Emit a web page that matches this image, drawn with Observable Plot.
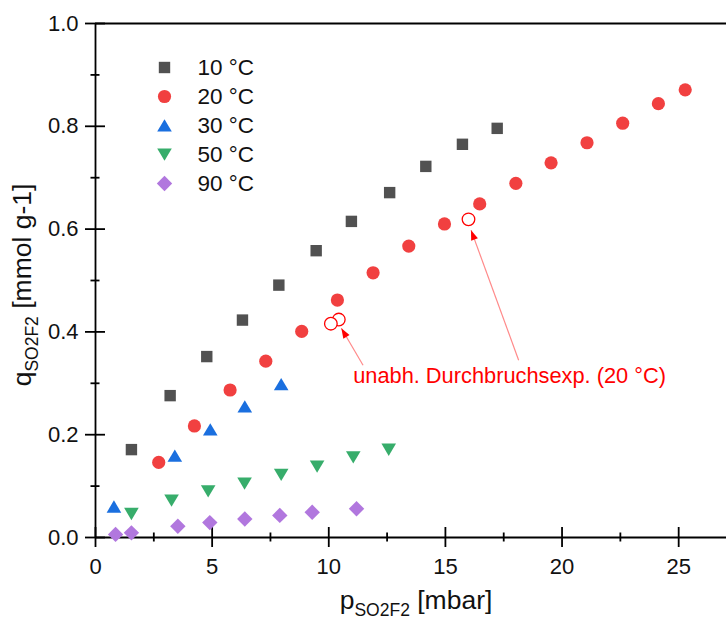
<!DOCTYPE html>
<html><head><meta charset="utf-8">
<script src="https://cdn.jsdelivr.net/npm/d3@7"></script>
<script src="https://cdn.jsdelivr.net/npm/@observablehq/plot@0.6"></script>
<style>
html,body{margin:0;padding:0;background:#fff;}
#wrap{position:relative;width:726px;height:621px;overflow:hidden;font-family:Arial,"Liberation Sans",sans-serif;}
#legend{position:absolute;left:140px;top:50px;}
</style></head><body><div id="wrap"></div>
<script>
// ---- data ----
const series = ["10 °C", "20 °C", "30 °C", "50 °C", "90 °C"];
const colors = ["#515151", "#F14040", "#1A6FDF", "#37AD6B", "#B177DE"];

const p10 = [1.54, 3.20, 4.77, 6.30, 7.86, 9.46, 10.97, 12.61, 14.16, 15.73, 17.22];
const q10 = [0.171, 0.276, 0.352, 0.423, 0.491, 0.558, 0.615, 0.671, 0.722, 0.765, 0.796];

const p20 = [2.71, 4.24, 5.77, 7.30, 8.84, 10.37, 11.90, 13.43, 14.96, 16.47, 18.02, 19.53, 21.07, 22.60, 24.13, 25.28];
const q20 = [0.146, 0.217, 0.287, 0.343, 0.401, 0.462, 0.515, 0.567, 0.610, 0.649, 0.689, 0.729, 0.768, 0.806, 0.844, 0.871];

const p30 = [0.79, 3.40, 4.92, 6.40, 7.96];
const q30 = [0.060, 0.159, 0.210, 0.255, 0.298];

const p50 = [1.54, 3.26, 4.83, 6.39, 7.96, 9.50, 11.05, 12.57];
const q50 = [0.046, 0.072, 0.090, 0.105, 0.122, 0.138, 0.156, 0.171];

const p90 = [0.86, 1.54, 3.53, 4.90, 6.40, 7.90, 9.29, 11.19];
const q90 = [0.006, 0.009, 0.022, 0.029, 0.036, 0.043, 0.049, 0.056];

// independent breakthrough experiments (20 °C), open circles
const pOpen = [10.43, 10.09, 15.99];
const qOpen = [0.424, 0.416, 0.619];

// annotation
const noteText = ["unabh. Durchbruchsexp. (20 °C)"];
const noteX = [17.75];
const noteY = [0.315];
const arrowX1 = [11.47, 18.14];
const arrowY1 = [0.335, 0.345];
const arrowX2 = [10.54, 16.10];
const arrowY2 = [0.407, 0.598];

// ticks
const xMajor = [0, 5, 10, 15, 20, 25];
const xMinor = [2.5, 7.5, 12.5, 17.5, 22.5];
const yMajor = [0, 0.2, 0.4, 0.6, 0.8, 1.0];
const yMinor = [0.1, 0.3, 0.5, 0.7, 0.9];

// ---- build tables ----
const ps = [p10, p20, p30, p50, p90];
const qs = [q10, q20, q30, q50, q90];
const rows = [];
series.forEach((s, i) => ps[i].forEach((p, j) => rows.push({series: s, p, q: qs[i][j]})));
const openRows = pOpen.map((p, i) => ({p, q: qOpen[i]}));
const notes = noteText.map((t, i) => ({t, x: noteX[i], y: noteY[i]}));
const arrows = arrowX1.map((x1, i) => ({x1, y1: arrowY1[i], x2: arrowX2[i], y2: arrowY2[i]}));

// ---- symbols ----
const kf = s => Math.sqrt(s / Math.PI) / 6.5;
const symSquare = {draw(c, s) { const h = 5.7 * kf(s); c.moveTo(-h, -h); c.lineTo(h, -h); c.lineTo(h, h); c.lineTo(-h, h); c.closePath(); }};
const symCircle = {draw(c, s) { const r = 6.6 * kf(s); c.moveTo(r, 0); c.arc(0, 0, r, 0, 2 * Math.PI); }};
const symUp = {draw(c, s) { const f = kf(s); c.moveTo(0, -6.3 * f); c.lineTo(7.3 * f, 6 * f); c.lineTo(-7.3 * f, 6 * f); c.closePath(); }};
const symDown = {draw(c, s) { const f = kf(s); c.moveTo(0, 6.3 * f); c.lineTo(7.3 * f, -6 * f); c.lineTo(-7.3 * f, -6 * f); c.closePath(); }};
const symDiamond = {draw(c, s) { const h = 7.7 * kf(s); c.moveTo(0, -h); c.lineTo(h, 0); c.lineTo(0, h); c.lineTo(-h, 0); c.closePath(); }};
const symbols = [symSquare, symCircle, symUp, symDown, symDiamond];

function filledArrow(color, context) {
  const ns = "http://www.w3.org/2000/svg";
  const m = document.createElementNS(ns, "marker");
  m.setAttribute("viewBox", "-11 -4 12 8");
  m.setAttribute("markerWidth", 12);
  m.setAttribute("markerHeight", 8);
  m.setAttribute("markerUnits", "userSpaceOnUse");
  m.setAttribute("orient", "auto");
  m.setAttribute("refX", 0);
  m.setAttribute("refY", 0);
  const path = document.createElementNS(ns, "path");
  path.setAttribute("d", "M0,0L-10,-3.6L-10,3.6Z");
  path.setAttribute("fill", "#ff0000");
  path.setAttribute("stroke", "none");
  m.appendChild(path);
  return m;
}

const font = 'Arial, "Liberation Sans", sans-serif';
const axisStroke = 1.8;

const chart = Plot.plot({
  width: 726, height: 621,
  marginLeft: 95, marginRight: 0, marginTop: 23, marginBottom: 84,
  style: {fontFamily: font, fontSize: "22px", color: "#111", background: "#fff", overflow: "visible"},
  x: {domain: [0, 27.05]},
  y: {domain: [0, 1]},
  color: {domain: series, range: colors},
  symbol: {domain: series, range: symbols},
  marks: [
    Plot.ruleY([1], {stroke: "#000", strokeWidth: axisStroke}),
    Plot.ruleY([0], {stroke: "#000", strokeWidth: axisStroke}),
    Plot.ruleX([0], {stroke: "#000", strokeWidth: axisStroke}),
    Plot.axisY(yMajor, {tickSize: 20, dx: 10, fill: "none", stroke: "#000", strokeWidth: axisStroke, label: null}),
    Plot.axisY(yMinor, {tickSize: 9, dx: 4.5, fill: "none", stroke: "#000", strokeWidth: axisStroke, label: null}),
    Plot.axisY(yMajor, {tickSize: 0, tickPadding: 17, tickFormat: d3.format(".1f"), label: null, fontSize: 22}),
    Plot.axisX(xMajor, {tickSize: 20, dy: -10, fill: "none", stroke: "#000", strokeWidth: axisStroke, label: null}),
    Plot.axisX(xMinor, {tickSize: 9, dy: -4.5, fill: "none", stroke: "#000", strokeWidth: axisStroke, label: null}),
    Plot.axisX(xMajor, {tickSize: 0, tickPadding: 21, tickFormat: d3.format("d"), label: null, fontSize: 22}),
    Plot.link(arrows, {x1: "x1", y1: "y1", x2: "x2", y2: "y2", stroke: "#ff8a8a", strokeWidth: 1.2, markerEnd: filledArrow}),
    Plot.dot(rows, {x: "p", y: "q", fill: "series", symbol: "series", r: 6.5}),
    Plot.dot(openRows, {x: "p", y: "q", r: 6.3, stroke: "#ff0000", fill: "#fff", strokeWidth: 1.3}),
    Plot.text(notes, {x: "x", y: "y", text: "t", fill: "#ff0000", fontSize: 21.8, textAnchor: "middle"})
  ]
});

// axis titles with subscripts
const svg = d3.select(chart);
const yt = svg.append("text")
  .attr("transform", "translate(31,285) rotate(-90)")
  .attr("text-anchor", "middle").attr("font-size", 26.5).attr("fill", "#111");
yt.append("tspan").text("q");
yt.append("tspan").attr("font-size", 17.5).attr("dy", 7).text("SO2F2");
yt.append("tspan").attr("dy", -7).text(" [mmol g-1]");

const xt = svg.append("text")
  .attr("transform", "translate(416,609)")
  .attr("text-anchor", "middle").attr("font-size", 26.5).attr("fill", "#111");
xt.append("tspan").text("p");
xt.append("tspan").attr("font-size", 17.5).attr("dy", 7).text("SO2F2");
xt.append("tspan").attr("dy", -7).text(" [mbar]");

const legend = Plot.plot({
  width: 140, height: 149,
  marginTop: 16.5, marginBottom: 16.5, marginLeft: 0, marginRight: 0,
  style: {fontFamily: font, fontSize: "22px", color: "#111", background: "transparent", overflow: "visible"},
  y: {type: "point", domain: series, padding: 0, axis: null},
  color: {domain: series, range: colors},
  symbol: {domain: series, range: symbols},
  marks: [
    Plot.dot(series, {y: d => d, frameAnchor: "left", dx: 24, fill: d => d, symbol: d => d, r: 6.5}),
    Plot.text(series, {y: d => d, frameAnchor: "left", dx: 57, text: d => d, textAnchor: "start", fontSize: 22.5})
  ]
});
legend.id = "legend";

const wrap = document.getElementById("wrap");
wrap.appendChild(chart);
wrap.appendChild(legend);
</script>
</body></html>
